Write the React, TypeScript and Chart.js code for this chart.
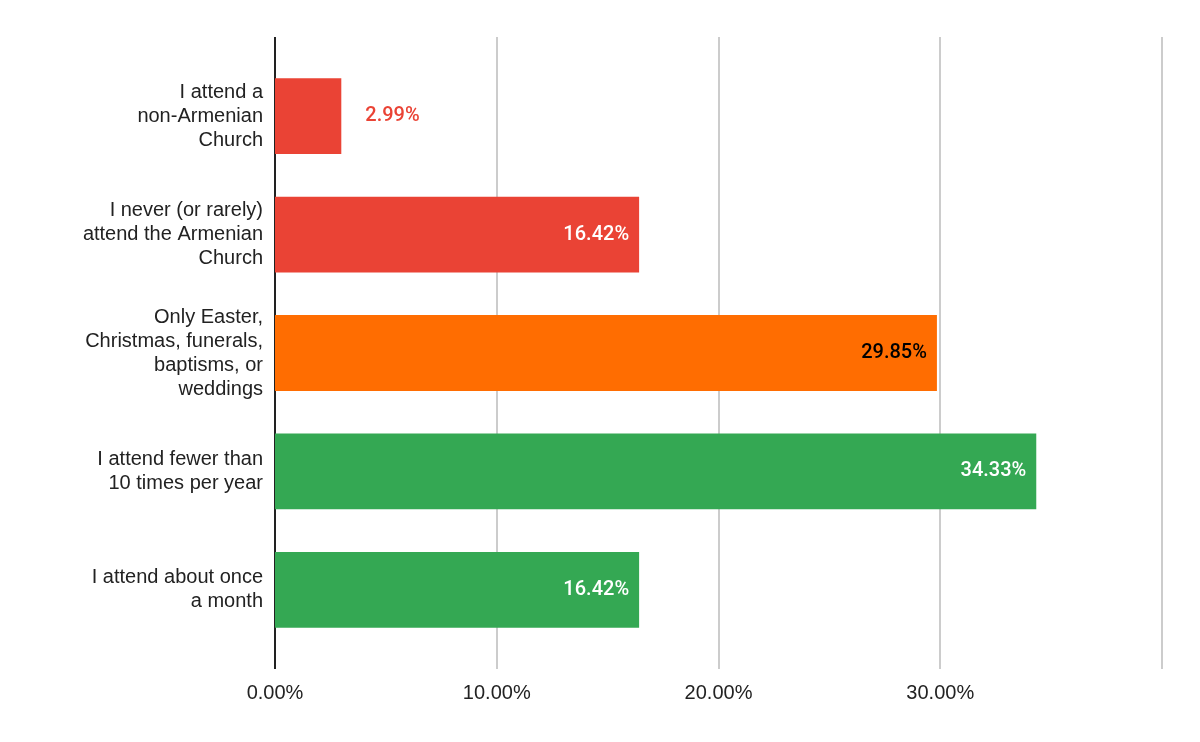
import React, { useEffect, useRef } from "react";
import { Chart, registerables } from "chart.js";
Chart.register(...registerables);

const categories: string[][] = [
  ["I attend a", "non-Armenian", "Church"],
  ["I never (or rarely)", "attend the Armenian", "Church"],
  ["Only Easter,", "Christmas, funerals,", "baptisms, or", "weddings"],
  ["I attend fewer than", "10 times per year"],
  ["I attend about once", "a month"],
];
const values = [2.99, 16.42, 29.85, 34.33, 16.42];
const colors = ["#EA4335", "#EA4335", "#FF6D01", "#34A853", "#34A853"];
const labelColors = ["#EA4335", "#FFFFFF", "#000000", "#FFFFFF", "#FFFFFF"];
const labelInside = [false, true, true, true, true];
const gridTicks = [0, 10, 20, 30, 40];

const AXFONT = "'Liberation Sans', Arial, sans-serif";
const VFONT = "Roboto, 'Liberation Sans', Arial, sans-serif";
const EXT = 20;

const gridPlugin = {
  id: "gridExt",
  beforeDatasetsDraw(chart: any) {
    const { ctx, chartArea } = chart;
    const xs = chart.scales.x;
    ctx.save();
    gridTicks.forEach((t) => {
      const x = Math.round(xs.getPixelForValue(t));
      ctx.strokeStyle = t === 0 ? "#222" : "#cccccc";
      ctx.lineWidth = 2;
      ctx.beginPath();
      ctx.moveTo(x, chartArea.top - EXT);
      ctx.lineTo(x, chartArea.bottom + EXT);
      ctx.stroke();
    });
    ctx.restore();
  },
};

const valueLabels = {
  id: "valueLabels",
  afterDatasetsDraw(chart: any) {
    const ctx = chart.ctx;
    const meta = chart.getDatasetMeta(0);
    ctx.save();
    ctx.font = `500 20px ${VFONT}`;
    ctx.textBaseline = "middle";
    meta.data.forEach((bar: any, i: number) => {
      const t = values[i].toFixed(2) + "%";
      ctx.fillStyle = labelColors[i];
      if (labelInside[i]) {
        ctx.textAlign = "right";
        ctx.fillText(t, bar.x - 10, bar.y);
      } else {
        ctx.textAlign = "left";
        ctx.fillText(t, bar.x + 24, bar.y);
      }
    });
    ctx.restore();
  },
};

export default function App() {
  const ref = useRef<HTMLCanvasElement>(null);
  useEffect(() => {
    document.body.style.margin = "0";
    const chart = new Chart(ref.current!, {
      type: "bar",
      data: {
        labels: categories,
        datasets: [{ data: values, backgroundColor: colors, categoryPercentage: 0.64, barPercentage: 1 }],
      },
      options: {
        indexAxis: "y",
        animation: false,
        responsive: false,
        layout: { padding: { top: 57, right: 38, left: 0, bottom: 0 } },
        plugins: { legend: { display: false }, tooltip: { enabled: false } },
        scales: {
          x: {
            min: 0,
            max: 40,
            ticks: {
              stepSize: 10,
              color: "#222",
              font: { family: AXFONT, size: 20 },
              padding: 32,
              callback: (v: any) => (v >= 40 ? "" : Number(v).toFixed(2) + "%"),
            },
            grid: { display: false, drawTicks: false },
            border: { display: false },
            afterFit: (s: any) => { s.height = 93; },
          },
          y: {
            ticks: { color: "#222", font: { family: AXFONT, size: 20, lineHeight: 1.2 }, padding: 12 },
            grid: { display: false, drawTicks: false },
            border: { display: false },
            afterFit: (s: any) => { s.width = 275; },
          },
        },
      },
      plugins: [gridPlugin, valueLabels],
    });
    return () => chart.destroy();
  }, []);
  return (
    <div style={{ width: 1200, height: 742, background: "#fff" }}>
      <canvas ref={ref} width={1200} height={742} />
    </div>
  );
}
